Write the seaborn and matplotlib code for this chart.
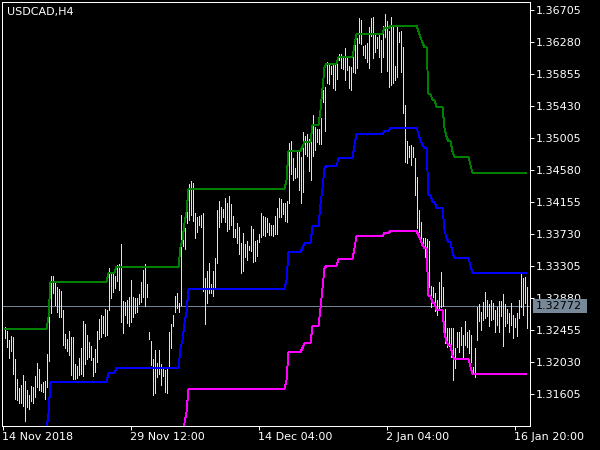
import numpy as np
import pandas as pd
import matplotlib
matplotlib.use("Agg")
import matplotlib.pyplot as plt
from matplotlib.patches import Rectangle
import seaborn as sns

symbol_label = "USDCAD,H4"
date_labels = ["14 Nov 2018", "29 Nov 12:00", "14 Dec 04:00", "2 Jan 04:00", "16 Jan 20:00"]
date_label_bar = [-1, 63, 127, 191, 255]
price_ticks = [1.36705, 1.36280, 1.35855, 1.35430, 1.35005, 1.34580, 1.34155,
               1.33730, 1.33305, 1.32880, 1.32455, 1.32030, 1.31605]
last_price = 1.32772

bar_high = [
    1.3250, 1.3244, 1.3232, 1.3238, 1.3236, 1.3207, 1.3180, 1.3169, 1.3173, 1.3186,
    1.3178, 1.3166, 1.3159, 1.3171, 1.3170, 1.3184, 1.3202, 1.3194, 1.3174, 1.3176,
    1.3178, 1.3214, 1.3263, 1.3317, 1.3317, 1.3311, 1.3303, 1.3300, 1.3297, 1.3272,
    1.3240, 1.3234, 1.3244, 1.3236, 1.3236, 1.3200, 1.3198, 1.3208, 1.3222, 1.3257,
    1.3253, 1.3239, 1.3230, 1.3224, 1.3208, 1.3220, 1.3244, 1.3260, 1.3266, 1.3264,
    1.3273, 1.3272, 1.3328, 1.3321, 1.3321, 1.3317, 1.3332, 1.3333, 1.3360, 1.3284,
    1.3283, 1.3285, 1.3289, 1.3312, 1.3289, 1.3288, 1.3288, 1.3293, 1.3309, 1.3325,
    1.3333, 1.3307, 1.3243, 1.3231, 1.3207, 1.3219, 1.3202, 1.3219, 1.3200, 1.3196,
    1.3192, 1.3196, 1.3243, 1.3253, 1.3265, 1.3291, 1.3295, 1.3281, 1.3398, 1.3386,
    1.3381, 1.3402, 1.3439, 1.3443, 1.3441, 1.3401, 1.3396, 1.3397, 1.3398, 1.3401,
    1.3315, 1.3324, 1.3334, 1.3307, 1.3324, 1.3341, 1.3405, 1.3417, 1.3409, 1.3406,
    1.3421, 1.3414, 1.3423, 1.3413, 1.3397, 1.3380, 1.3388, 1.3382, 1.3361, 1.3374,
    1.3360, 1.3364, 1.3357, 1.3383, 1.3380, 1.3364, 1.3365, 1.3373, 1.3401, 1.3397,
    1.3396, 1.3394, 1.3388, 1.3385, 1.3385, 1.3397, 1.3408, 1.3421, 1.3420, 1.3414,
    1.3414, 1.3417, 1.3494, 1.3497, 1.3474, 1.3461, 1.3482, 1.3482, 1.3475, 1.3508,
    1.3503, 1.3506, 1.3499, 1.3508, 1.3531, 1.3515, 1.3512, 1.3512, 1.3527, 1.3564,
    1.3568, 1.3601, 1.3599, 1.3596, 1.3599, 1.3600, 1.3605, 1.3612, 1.3612, 1.3607,
    1.3620, 1.3607, 1.3596, 1.3595, 1.3621, 1.3638, 1.3633, 1.3660, 1.3657, 1.3623,
    1.3624, 1.3626, 1.3648, 1.3660, 1.3661, 1.3637, 1.3634, 1.3640, 1.3631, 1.3649,
    1.3665, 1.3656, 1.3643, 1.3661, 1.3651, 1.3596, 1.3648, 1.3641, 1.3643, 1.3621,
    1.3544, 1.3497, 1.3490, 1.3491, 1.3488, 1.3474, 1.3449, 1.3405, 1.3389, 1.3368,
    1.3368, 1.3366, 1.3364, 1.3304, 1.3303, 1.3295, 1.3285, 1.3309, 1.3323, 1.3303,
    1.3273, 1.3248, 1.3248, 1.3248, 1.3248, 1.3222, 1.3243, 1.3243, 1.3249, 1.3239,
    1.3257, 1.3243, 1.3245, 1.3239, 1.3196, 1.3222, 1.3276, 1.3280, 1.3269, 1.3283,
    1.3296, 1.3285, 1.3280, 1.3285, 1.3281, 1.3272, 1.3276, 1.3284, 1.3284, 1.3293,
    1.3280, 1.3273, 1.3268, 1.3281, 1.3265, 1.3261, 1.3268, 1.3285, 1.3320, 1.3314,
    1.3316, 1.3303,
]

bar_low = [
    1.3235, 1.3223, 1.3208, 1.3218, 1.3187, 1.3154, 1.3153, 1.3149, 1.3149, 1.3145,
    1.3125, 1.3143, 1.3141, 1.3151, 1.3149, 1.3157, 1.3170, 1.3166, 1.3164, 1.3163,
    1.3154, 1.3170, 1.3204, 1.3268, 1.3295, 1.3279, 1.3269, 1.3263, 1.3263, 1.3226,
    1.3222, 1.3218, 1.3212, 1.3186, 1.3180, 1.3180, 1.3182, 1.3186, 1.3187, 1.3184,
    1.3200, 1.3207, 1.3210, 1.3206, 1.3184, 1.3190, 1.3203, 1.3234, 1.3236, 1.3242,
    1.3238, 1.3239, 1.3272, 1.3288, 1.3296, 1.3301, 1.3311, 1.3299, 1.3256, 1.3241,
    1.3265, 1.3255, 1.3251, 1.3256, 1.3263, 1.3268, 1.3269, 1.3280, 1.3283, 1.3289,
    1.3277, 1.3289, 1.3234, 1.3199, 1.3159, 1.3162, 1.3183, 1.3187, 1.3172, 1.3184,
    1.3163, 1.3162, 1.3196, 1.3222, 1.3251, 1.3269, 1.3275, 1.3269, 1.3279, 1.3357,
    1.3353, 1.3388, 1.3392, 1.3398, 1.3390, 1.3368, 1.3376, 1.3385, 1.3382, 1.3297,
    1.3253, 1.3281, 1.3295, 1.3295, 1.3291, 1.3303, 1.3334, 1.3382, 1.3389, 1.3396,
    1.3389, 1.3377, 1.3380, 1.3385, 1.3369, 1.3369, 1.3361, 1.3346, 1.3321, 1.3324,
    1.3342, 1.3338, 1.3352, 1.3350, 1.3336, 1.3337, 1.3344, 1.3362, 1.3369, 1.3372,
    1.3370, 1.3376, 1.3372, 1.3372, 1.3370, 1.3373, 1.3373, 1.3396, 1.3396, 1.3400,
    1.3390, 1.3389, 1.3414, 1.3453, 1.3445, 1.3447, 1.3449, 1.3431, 1.3414, 1.3429,
    1.3479, 1.3477, 1.3457, 1.3445, 1.3477, 1.3485, 1.3495, 1.3492, 1.3492, 1.3548,
    1.3510, 1.3574, 1.3572, 1.3586, 1.3567, 1.3564, 1.3579, 1.3604, 1.3593, 1.3592,
    1.3578, 1.3591, 1.3567, 1.3564, 1.3588, 1.3587, 1.3593, 1.3627, 1.3625, 1.3611,
    1.3607, 1.3601, 1.3593, 1.3636, 1.3607, 1.3615, 1.3620, 1.3608, 1.3588, 1.3608,
    1.3635, 1.3590, 1.3568, 1.3571, 1.3574, 1.3578, 1.3582, 1.3628, 1.3588, 1.3534,
    1.3469, 1.3467, 1.3475, 1.3465, 1.3475, 1.3425, 1.3381, 1.3376, 1.3368, 1.3354,
    1.3342, 1.3333, 1.3303, 1.3276, 1.3289, 1.3271, 1.3265, 1.3273, 1.3276, 1.3277,
    1.3228, 1.3223, 1.3224, 1.3210, 1.3179, 1.3195, 1.3223, 1.3216, 1.3226, 1.3208,
    1.3226, 1.3223, 1.3215, 1.3203, 1.3188, 1.3183, 1.3232, 1.3257, 1.3245, 1.3259,
    1.3262, 1.3264, 1.3251, 1.3259, 1.3260, 1.3243, 1.3252, 1.3243, 1.3264, 1.3224,
    1.3251, 1.3255, 1.3243, 1.3252, 1.3235, 1.3249, 1.3238, 1.3261, 1.3276, 1.3266,
    1.3281, 1.3248,
]

# indicator lines as (value, number of bars) runs
upper_runs = [(1.32468, 22), (1.32628, 1), (1.33093, 29), (1.33212, 4), (1.33292, 32),
              (1.33557, 1), (1.33650, 1), (1.33876, 1), (1.34022, 1), (1.34327, 49),
              (1.34447, 1), (1.34832, 7), (1.34885, 1), (1.34952, 4), (1.35178, 4),
              (1.35377, 1), (1.35669, 1), (1.35948, 1), (1.35988, 6), (1.36081, 8),
              (1.36240, 1), (1.36386, 14), (1.36466, 3), (1.36493, 14), (1.36413, 1),
              (1.36346, 1), (1.36267, 1), (1.36214, 2), (1.35589, 2), (1.35510, 2),
              (1.35417, 4), (1.35138, 1), (1.35018, 1), (1.34965, 2), (1.34819, 1),
              (1.34753, 8), (1.34646, 1), (1.34540, 28)]
middle_runs = [(1.31130, 22), (1.31353, 1), (1.31764, 29), (1.31884, 4), (1.31951, 32),
               (1.32216, 1), (1.32322, 1), (1.32548, 1), (1.32694, 1), (1.33000, 49),
               (1.33119, 1), (1.33491, 7), (1.33544, 1), (1.33610, 4), (1.33830, 4),
               (1.34129, 1), (1.34341, 1), (1.34607, 1), (1.34633, 6), (1.34740, 8),
               (1.34912, 1), (1.35058, 14), (1.35098, 3), (1.35138, 14), (1.35058, 1),
               (1.34978, 1), (1.34912, 1), (1.34872, 2), (1.34248, 2), (1.34155, 2),
               (1.34076, 4), (1.33783, 1), (1.33677, 1), (1.33624, 2), (1.33478, 1),
               (1.33412, 8), (1.33305, 1), (1.33212, 28)]
lower_runs = [(1.29812, 22), (1.29972, 1), (1.30424, 29), (1.30543, 4), (1.30623, 32),
              (1.30888, 1), (1.30995, 1), (1.31220, 1), (1.31366, 1), (1.31671, 49),
              (1.31791, 1), (1.32163, 7), (1.32216, 1), (1.32282, 4), (1.32508, 4),
              (1.32748, 1), (1.33013, 1), (1.33278, 1), (1.33305, 6), (1.33398, 8),
              (1.33544, 1), (1.33703, 14), (1.33743, 3), (1.33770, 14), (1.33717, 1),
              (1.33650, 1), (1.33584, 1), (1.33544, 2), (1.32906, 2), (1.32814, 2),
              (1.32721, 4), (1.32415, 1), (1.32296, 1), (1.32256, 2), (1.32110, 1),
              (1.32070, 8), (1.31964, 1), (1.31871, 28)]


def expand(runs):
    out = []
    for v, n in runs:
        out.extend([v] * n)
    return out


n = len(bar_high)
assert len(bar_low) == n
df = pd.DataFrame({
    "bar": np.arange(n),
    "high": bar_high,
    "low": bar_low,
    "upper": expand(upper_runs),
    "middle": expand(middle_runs),
    "lower": expand(lower_runs),
})

sns.set_style("dark", {"axes.facecolor": "black", "figure.facecolor": "black",
                       "axes.edgecolor": "white", "grid.color": "black"})
plt.rcParams["font.family"] = ["DejaVu Sans"]

fig = plt.figure(figsize=(6, 4.5), dpi=100, facecolor="black")
ax = fig.add_axes([2 / 600, 24 / 450, 528 / 600, 424 / 450])
ax.set_facecolor("black")

ax.axhline(last_price, color="#778899", linewidth=0.7, zorder=1)
ax.vlines(df["bar"], df["low"], df["high"], colors="#FFFF00", linewidth=0.68,
          antialiased=False, zorder=2)
for col, colr in [("upper", "#008000"), ("middle", "#0000FF"), ("lower", "#FF00FF")]:
    sns.lineplot(data=df, x="bar", y=col, color=colr, linewidth=0.68, ax=ax,
                 estimator=None, sort=False, antialiased=False, zorder=3)

ax.set_xlim(-1.25, 262.75)
ax.set_ylim(1.31180, 1.36811)
ax.set_xlabel("")
ax.set_ylabel("")
ax.grid(False)

ax.yaxis.tick_right()
ax.set_yticks(price_ticks)
ax.set_yticklabels([f"{v:.5f}" for v in price_ticks])
ax.set_xticks(date_label_bar)
ax.set_xticklabels(date_labels, ha="left")
ax.tick_params(axis="y", colors="white", length=3, width=0.72, pad=1, labelsize=8,
               direction="out", right=True, left=False)
ax.tick_params(axis="x", colors="white", length=3, width=0.72, pad=1, labelsize=8,
               direction="out", bottom=True)
for s in ax.spines.values():
    s.set_color("white")
    s.set_linewidth(0.72)
    s.set_visible(True)

fig.text(7 / 600, 1 - 11.5 / 450, symbol_label, color="white", fontsize=8,
         va="center", ha="left")

fig.patches.append(Rectangle((533 / 600, 1 - 313 / 450), 54 / 600, 14 / 450,
                             transform=fig.transFigure, facecolor="#778899",
                             edgecolor="none", zorder=5))
fig.text(536 / 600, 1 - 306 / 450, f"{last_price:.5f}", color="black", fontsize=8,
         va="center", ha="left", zorder=6)

fig.savefig("out.png", dpi=100, facecolor="black")
